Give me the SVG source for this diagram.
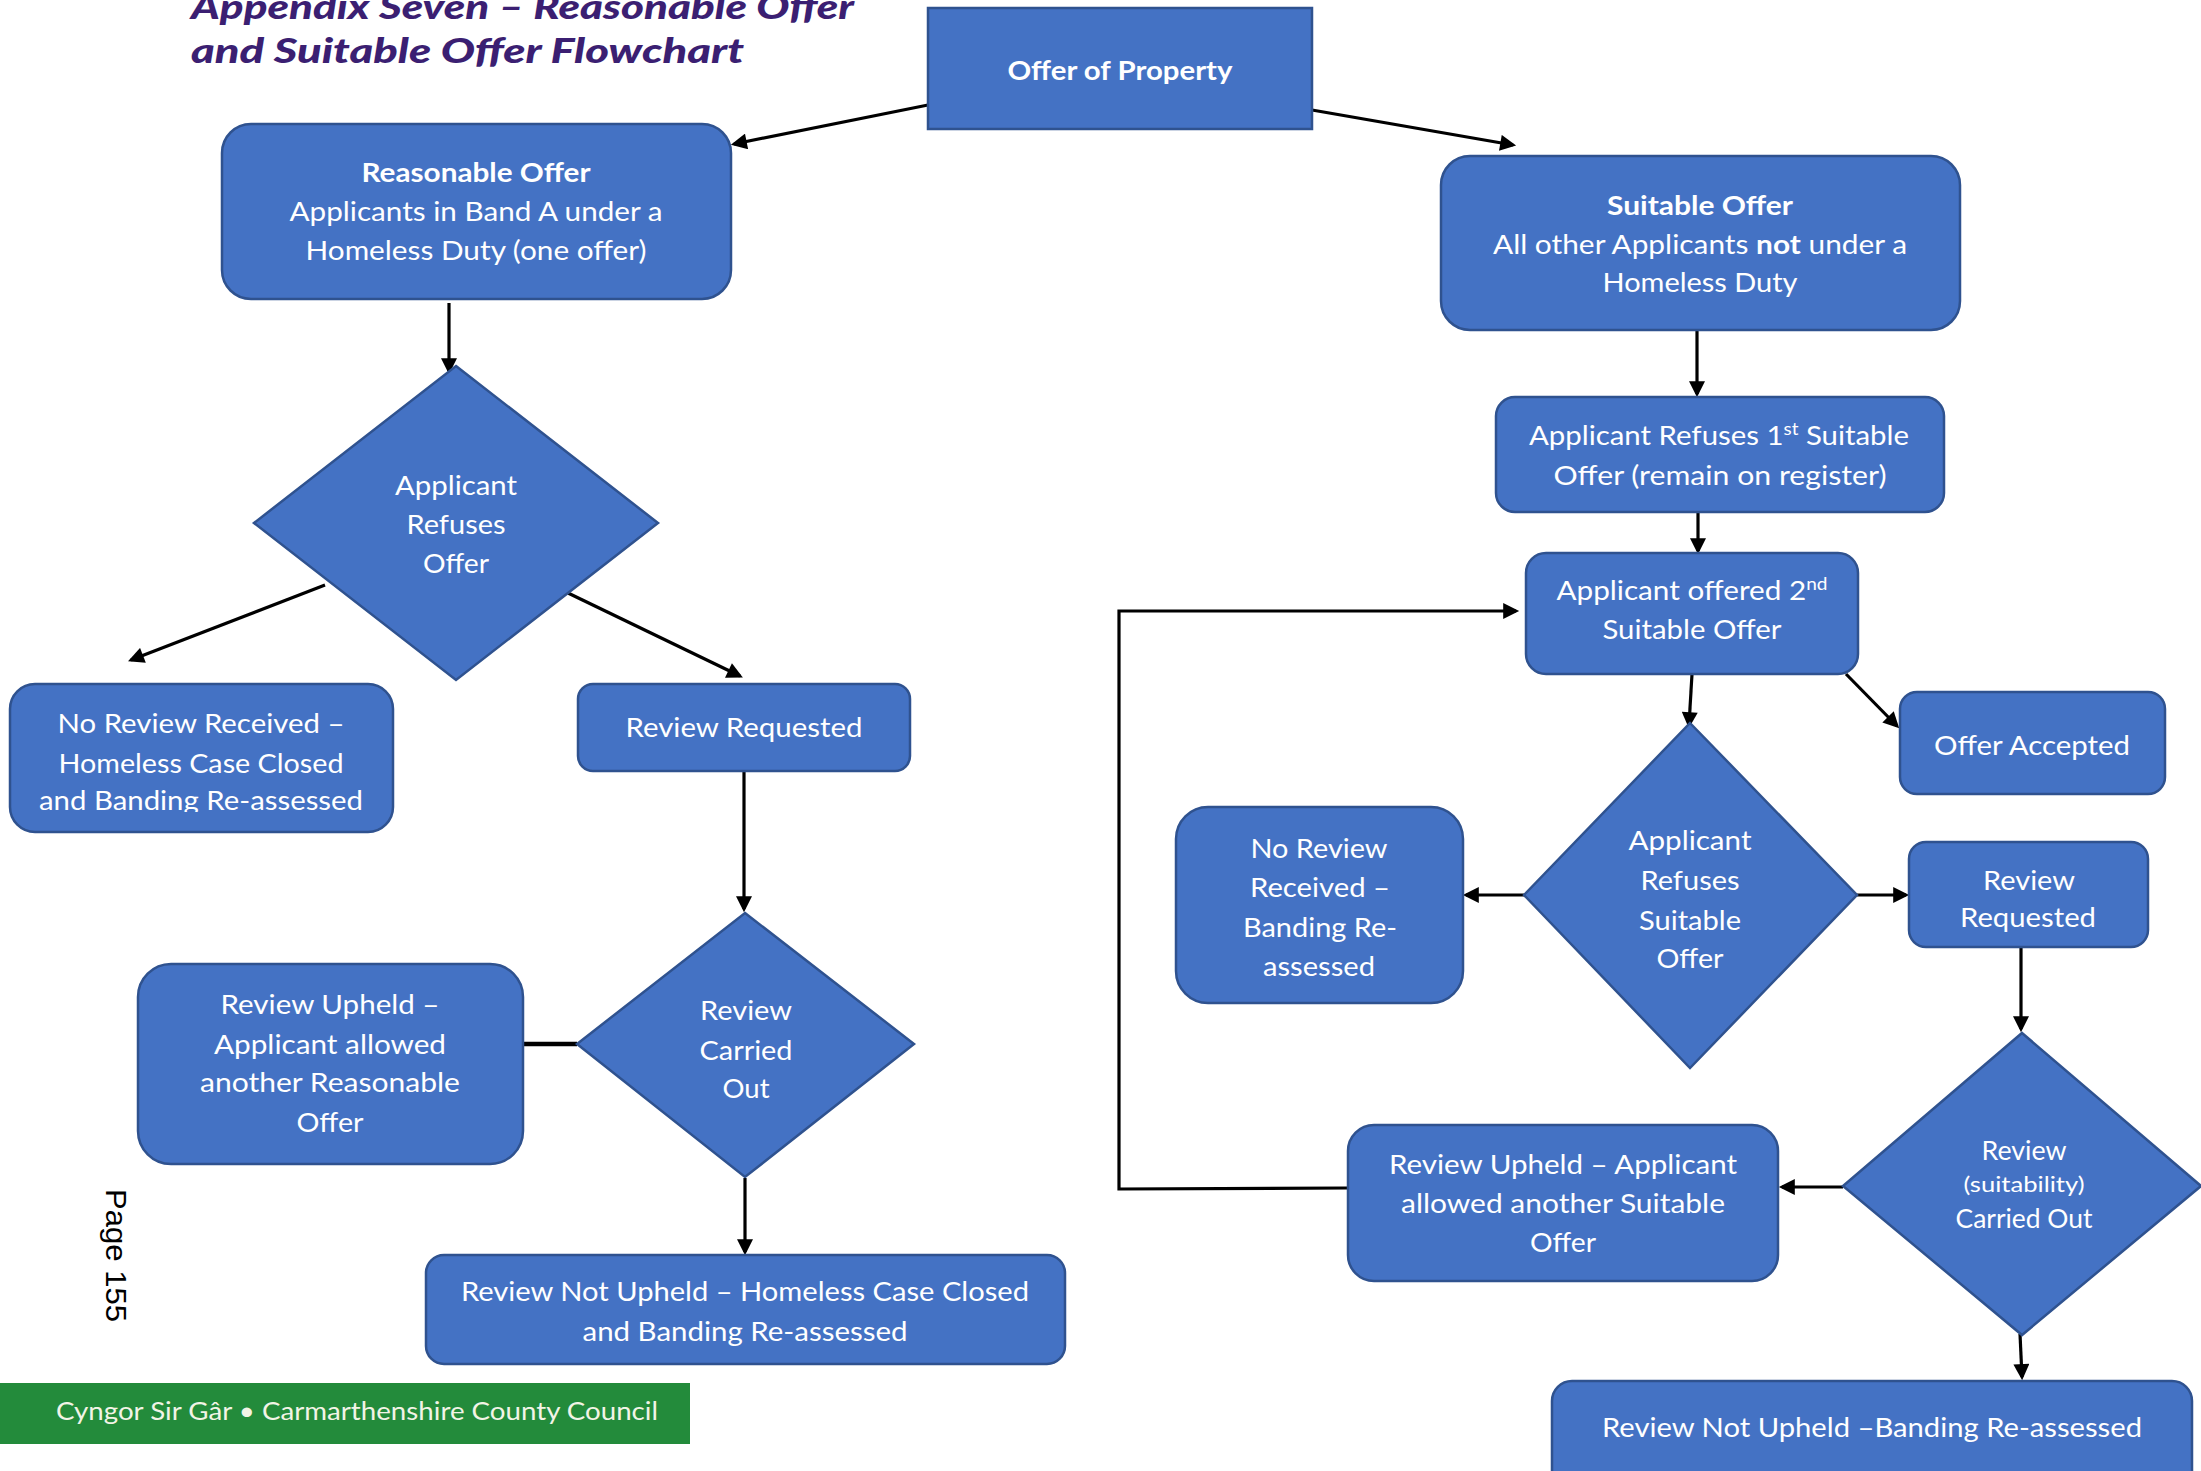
<svg xmlns="http://www.w3.org/2000/svg" width="2201" height="1471" viewBox="0 0 2201 1471">
<style>
.box{fill:#4472C4;stroke:#2F528F;stroke-width:2.5}
.t{font-family:Lato,"Open Sans","Liberation Sans",sans-serif;font-size:26.5px;fill:#FFFFFF;text-anchor:middle}
.b{font-weight:700}
.c{stroke:#000;stroke-width:3.2;fill:none}
.a{marker-end:url(#ah)}
.title{font-family:Lato,"Liberation Sans",sans-serif;font-size:35px;font-weight:900;font-style:italic;fill:#3B1F72}
</style>
<defs>
<marker id="ah" viewBox="0 0 10 10" refX="8" refY="5" markerWidth="5.6" markerHeight="5" orient="auto" markerUnits="strokeWidth">
<path d="M0,0 L10,5 L0,10 z" fill="#000"/>
</marker>
<clipPath id="clipNR"><rect x="0" y="680" width="400" height="132"/></clipPath>
</defs>
<rect x="0" y="0" width="2201" height="1471" fill="#FFFFFF"/>

<g id="title">
<text class="title" x="191" y="19" textLength="663" lengthAdjust="spacingAndGlyphs">Appendix Seven – Reasonable Offer</text>
<text class="title" x="191" y="63" textLength="553" lengthAdjust="spacingAndGlyphs">and Suitable Offer Flowchart</text>
</g>

<g id="connectors">
<path class="c a" d="M928,105 L734,144"/>
<path class="c a" d="M1312,110 L1513,145"/>
<path class="c a" d="M449,303 L449,371"/>
<path class="c a" d="M325,585 L131,660"/>
<path class="c a" d="M568,593 L740,676"/>
<path class="c a" d="M744,771 L744,909"/>
<path class="c" style="stroke-width:4.5" d="M577,1044 L523,1044"/>
<path class="c a" d="M745,1178 L745,1252"/>
<path class="c a" d="M1697,330 L1697,394"/>
<path class="c a" d="M1698,512 L1698,551"/>
<path class="c a" d="M1347,1188 L1119,1189 L1119,611 L1516,611"/>
<path class="c a" d="M1692,674 L1689,725"/>
<path class="c a" d="M1846,674 L1897,726"/>
<path class="c a" d="M1533,895 L1466,895"/>
<path class="c a" d="M1857,895 L1906,895"/>
<path class="c a" d="M2021,947 L2021,1029"/>
<path class="c a" d="M1843,1187 L1782,1187"/>
<path class="c a" d="M2020,1334 L2022,1377"/>
</g>

<g id="n-offer">
<rect class="box" x="928" y="8" width="384" height="121"/>
<text class="t b" x="1120" y="80" textLength="225" lengthAdjust="spacingAndGlyphs">Offer of Property</text>
</g>

<g id="n-reasonable">
<rect class="box" x="222" y="124" width="509" height="175" rx="29"/>
<text class="t b" x="476" y="182" textLength="229" lengthAdjust="spacingAndGlyphs">Reasonable Offer</text>
<text class="t" x="476" y="221" textLength="373" lengthAdjust="spacingAndGlyphs">Applicants in Band A under a</text>
<text class="t" x="476" y="260" textLength="341" lengthAdjust="spacingAndGlyphs">Homeless Duty (one offer)</text>
</g>

<g id="n-suitable">
<rect class="box" x="1441" y="156" width="519" height="174" rx="29"/>
<text class="t b" x="1700" y="215" textLength="186" lengthAdjust="spacingAndGlyphs">Suitable Offer</text>
<text class="t" x="1700" y="254" textLength="414" lengthAdjust="spacingAndGlyphs">All other Applicants <tspan class="b">not</tspan> under a</text>
<text class="t" x="1700" y="292" textLength="195" lengthAdjust="spacingAndGlyphs">Homeless Duty</text>
</g>

<g id="n-refuses1">
<rect class="box" x="1496" y="397" width="448" height="115" rx="19"/>
<text class="t" x="1719" y="445" textLength="380" lengthAdjust="spacingAndGlyphs">Applicant Refuses 1<tspan font-size="17" dy="-10">st</tspan><tspan dy="10"> Suitable</tspan></text>
<text class="t" x="1720" y="485" textLength="333" lengthAdjust="spacingAndGlyphs">Offer (remain on register)</text>
</g>

<g id="n-offered2">
<rect class="box" x="1526" y="553" width="332" height="121" rx="20"/>
<text class="t" x="1692" y="600" textLength="271" lengthAdjust="spacingAndGlyphs">Applicant offered 2<tspan font-size="17" dy="-10">nd</tspan></text>
<text class="t" x="1692" y="639" textLength="179" lengthAdjust="spacingAndGlyphs">Suitable Offer</text>
</g>

<g id="n-accepted">
<rect class="box" x="1900" y="692" width="265" height="102" rx="17"/>
<text class="t" x="2032" y="755" textLength="196" lengthAdjust="spacingAndGlyphs">Offer Accepted</text>
</g>

<g id="n-refuses-suitable">
<polygon class="box" points="1690,723 1857,895 1690,1068 1524,895"/>
<text class="t" x="1690" y="850" textLength="123" lengthAdjust="spacingAndGlyphs">Applicant</text>
<text class="t" x="1690" y="890" textLength="99" lengthAdjust="spacingAndGlyphs">Refuses</text>
<text class="t" x="1690" y="930" textLength="102" lengthAdjust="spacingAndGlyphs">Suitable</text>
<text class="t" x="1690" y="968" textLength="67" lengthAdjust="spacingAndGlyphs">Offer</text>
</g>

<g id="n-noreview-r">
<rect class="box" x="1176" y="807" width="287" height="196" rx="32"/>
<text class="t" x="1319" y="858" textLength="137" lengthAdjust="spacingAndGlyphs">No Review</text>
<text class="t" x="1320" y="897" textLength="140" lengthAdjust="spacingAndGlyphs">Received –</text>
<text class="t" x="1320" y="937" textLength="154" lengthAdjust="spacingAndGlyphs">Banding Re-</text>
<text class="t" x="1319" y="976" textLength="112" lengthAdjust="spacingAndGlyphs">assessed</text>
</g>

<g id="n-reviewreq-r">
<rect class="box" x="1909" y="842" width="239" height="105" rx="17"/>
<text class="t" x="2029" y="890" textLength="92" lengthAdjust="spacingAndGlyphs">Review</text>
<text class="t" x="2028" y="927" textLength="136" lengthAdjust="spacingAndGlyphs">Requested</text>
</g>

<g id="n-suitability">
<polygon class="box" points="2022,1033 2201,1186 2022,1335 1843,1186"/>
<text class="t" x="2024" y="1160" textLength="85" lengthAdjust="spacingAndGlyphs">Review</text>
<text class="t" x="2024" y="1192" style="font-size:21px" textLength="121" lengthAdjust="spacingAndGlyphs">(suitability)</text>
<text class="t" x="2024" y="1228" textLength="137" lengthAdjust="spacingAndGlyphs">Carried Out</text>
</g>

<g id="n-upheld-r">
<rect class="box" x="1348" y="1125" width="430" height="156" rx="26"/>
<text class="t" x="1563" y="1174" textLength="348" lengthAdjust="spacingAndGlyphs">Review Upheld – Applicant</text>
<text class="t" x="1563" y="1213" textLength="324" lengthAdjust="spacingAndGlyphs">allowed another Suitable</text>
<text class="t" x="1563" y="1252" textLength="66" lengthAdjust="spacingAndGlyphs">Offer</text>
</g>

<g id="n-notupheld-r">
<rect class="box" x="1552" y="1381" width="640" height="120" rx="20"/>
<text class="t" x="1872" y="1437" textLength="540" lengthAdjust="spacingAndGlyphs">Review Not Upheld –Banding Re-assessed</text>
</g>

<g id="n-refuses-offer">
<polygon class="box" points="456,366 658,523 456,680 254,523"/>
<text class="t" x="456" y="495" textLength="122" lengthAdjust="spacingAndGlyphs">Applicant</text>
<text class="t" x="456" y="534" textLength="99" lengthAdjust="spacingAndGlyphs">Refuses</text>
<text class="t" x="456" y="573" textLength="66" lengthAdjust="spacingAndGlyphs">Offer</text>
</g>

<g id="n-noreview-l">
<rect class="box" x="10" y="684" width="383" height="148" rx="25"/>
<g clip-path="url(#clipNR)">
<text class="t" x="201" y="733" textLength="287" lengthAdjust="spacingAndGlyphs">No Review Received –</text>
<text class="t" x="201" y="773" textLength="285" lengthAdjust="spacingAndGlyphs">Homeless Case Closed</text>
<text class="t" x="201" y="810" textLength="324" lengthAdjust="spacingAndGlyphs">and Banding Re-assessed</text>
</g>
</g>

<g id="n-reviewreq-l">
<rect class="box" x="578" y="684" width="332" height="87" rx="15"/>
<text class="t" x="744" y="737" textLength="237" lengthAdjust="spacingAndGlyphs">Review Requested</text>
</g>

<g id="n-carried">
<polygon class="box" points="745,913 914,1044 745,1177 577,1044"/>
<text class="t" x="746" y="1020" textLength="92" lengthAdjust="spacingAndGlyphs">Review</text>
<text class="t" x="746" y="1060" textLength="93" lengthAdjust="spacingAndGlyphs">Carried</text>
<text class="t" x="746" y="1098" textLength="47" lengthAdjust="spacingAndGlyphs">Out</text>
</g>

<g id="n-upheld-l">
<rect class="box" x="138" y="964" width="385" height="200" rx="33"/>
<text class="t" x="330" y="1014" textLength="219" lengthAdjust="spacingAndGlyphs">Review Upheld –</text>
<text class="t" x="330" y="1054" textLength="232" lengthAdjust="spacingAndGlyphs">Applicant allowed</text>
<text class="t" x="330" y="1092" textLength="260" lengthAdjust="spacingAndGlyphs">another Reasonable</text>
<text class="t" x="330" y="1132" textLength="67" lengthAdjust="spacingAndGlyphs">Offer</text>
</g>

<g id="n-notupheld-l">
<rect class="box" x="426" y="1255" width="639" height="109" rx="18"/>
<text class="t" x="745" y="1301" textLength="568" lengthAdjust="spacingAndGlyphs">Review Not Upheld – Homeless Case Closed</text>
<text class="t" x="745" y="1341" textLength="325" lengthAdjust="spacingAndGlyphs">and Banding Re-assessed</text>
</g>

<g id="page-number">
<text transform="translate(106,1189) rotate(90)" x="0" y="0" font-family="'Liberation Sans',Arial,sans-serif" font-size="30" fill="#000" textLength="133" lengthAdjust="spacingAndGlyphs">Page 155</text>
</g>

<g id="footer">
<rect x="0" y="1383" width="690" height="61" fill="#238B3B"/>
<text x="56" y="1420" font-family="Lato,'Open Sans',sans-serif" font-size="25" fill="#F2F4E6" textLength="602" lengthAdjust="spacingAndGlyphs">Cyngor Sir Gâr • Carmarthenshire County Council</text>
</g>
</svg>
